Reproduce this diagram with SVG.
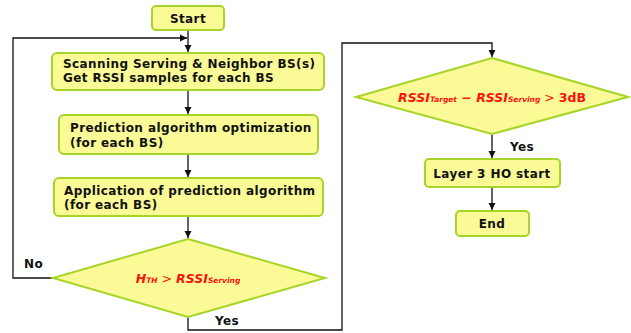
<svg xmlns="http://www.w3.org/2000/svg" width="631" height="333" viewBox="0 0 631 333">
<style>
.box{fill:#FAFA96;stroke:#A8D42A;stroke-width:2}
.t{font-family:"DejaVu Sans",Verdana,sans-serif;font-weight:bold;font-size:12px;letter-spacing:0.4px;fill:#111}
.r{font-family:"DejaVu Sans",Verdana,sans-serif;font-style:italic;font-weight:bold;fill:#FF1010}
.ln{fill:none;stroke:#111;stroke-width:1.3}
</style>
<defs>
<marker id="ah" markerWidth="8" markerHeight="8" refX="7" refY="4" orient="auto" markerUnits="userSpaceOnUse">
<path d="M0,0.5 L7,4 L0,7.5 Z" fill="#111"/>
</marker>
</defs>
<rect width="631" height="333" fill="#fff"/>
<g id="connectors">
<path class="ln" d="M188,30 V52" marker-end="url(#ah)"/>
<path class="ln" d="M53,278 H13 V38 H187" marker-end="url(#ah)"/>
<path class="ln" d="M188,90 V114" marker-end="url(#ah)"/>
<path class="ln" d="M188,154 V177" marker-end="url(#ah)"/>
<path class="ln" d="M188,216 V238" marker-end="url(#ah)"/>
<path class="ln" d="M188,317 V330 H342 V43 H492 V57" marker-end="url(#ah)"/>
<path class="ln" d="M492,134 V158" marker-end="url(#ah)"/>
<path class="ln" d="M492,187 V210" marker-end="url(#ah)"/>
<text class="t" x="24" y="268">No</text>
<text class="t" x="215" y="325">Yes</text>
<text class="t" x="510" y="151">Yes</text>
</g>
<g id="start">
<rect class="box" x="152" y="6" width="72" height="24" rx="4"/>
<text class="t" x="188" y="22.5" text-anchor="middle">Start</text>
</g>
<g id="scan">
<rect class="box" x="52" y="53" width="272" height="37" rx="5"/>
<text class="t" x="63" y="68">Scanning Serving &amp; Neighbor BS(s)</text>
<text class="t" x="63" y="82">Get RSSI samples for each BS</text>
</g>
<g id="predopt">
<rect class="box" x="59" y="115" width="259" height="39" rx="5"/>
<text class="t" x="70" y="132">Prediction algorithm optimization</text>
<text class="t" x="70" y="147">(for each BS)</text>
</g>
<g id="predapp">
<rect class="box" x="54" y="178" width="269" height="38" rx="5"/>
<text class="t" x="64" y="195">Application of prediction algorithm</text>
<text class="t" x="64" y="209">(for each BS)</text>
</g>
<g id="dec1">
<polygon class="box" points="188,239 325,278 188,317 53,278"/>
<text class="r" x="188" y="283" text-anchor="middle"><tspan font-size="12.5">H</tspan><tspan font-size="7.5">TH</tspan><tspan font-size="12.5" font-style="normal" font-weight="normal"> &gt; </tspan><tspan font-size="12.5">RSSI</tspan><tspan font-size="7.5">Serving</tspan></text>
</g>
<g id="dec2">
<polygon class="box" points="492,58 628,97 492,134 356,97"/>
<text class="r" x="492" y="102" text-anchor="middle"><tspan font-size="12.5">RSSI</tspan><tspan font-size="7.5">Target</tspan><tspan font-size="12.5" font-style="normal"> − </tspan><tspan font-size="12.5">RSSI</tspan><tspan font-size="7.5">Serving</tspan><tspan font-size="12.5" font-style="normal" font-weight="normal"> &gt; </tspan><tspan font-size="12.5" font-style="normal">3dB</tspan></text>
</g>
<g id="ho">
<rect class="box" x="425" y="159" width="135" height="28" rx="4"/>
<text class="t" x="492" y="177.5" text-anchor="middle">Layer 3 HO start</text>
</g>
<g id="end">
<rect class="box" x="456" y="211" width="73" height="25" rx="4"/>
<text class="t" x="492" y="228" text-anchor="middle">End</text>
</g>
</svg>
